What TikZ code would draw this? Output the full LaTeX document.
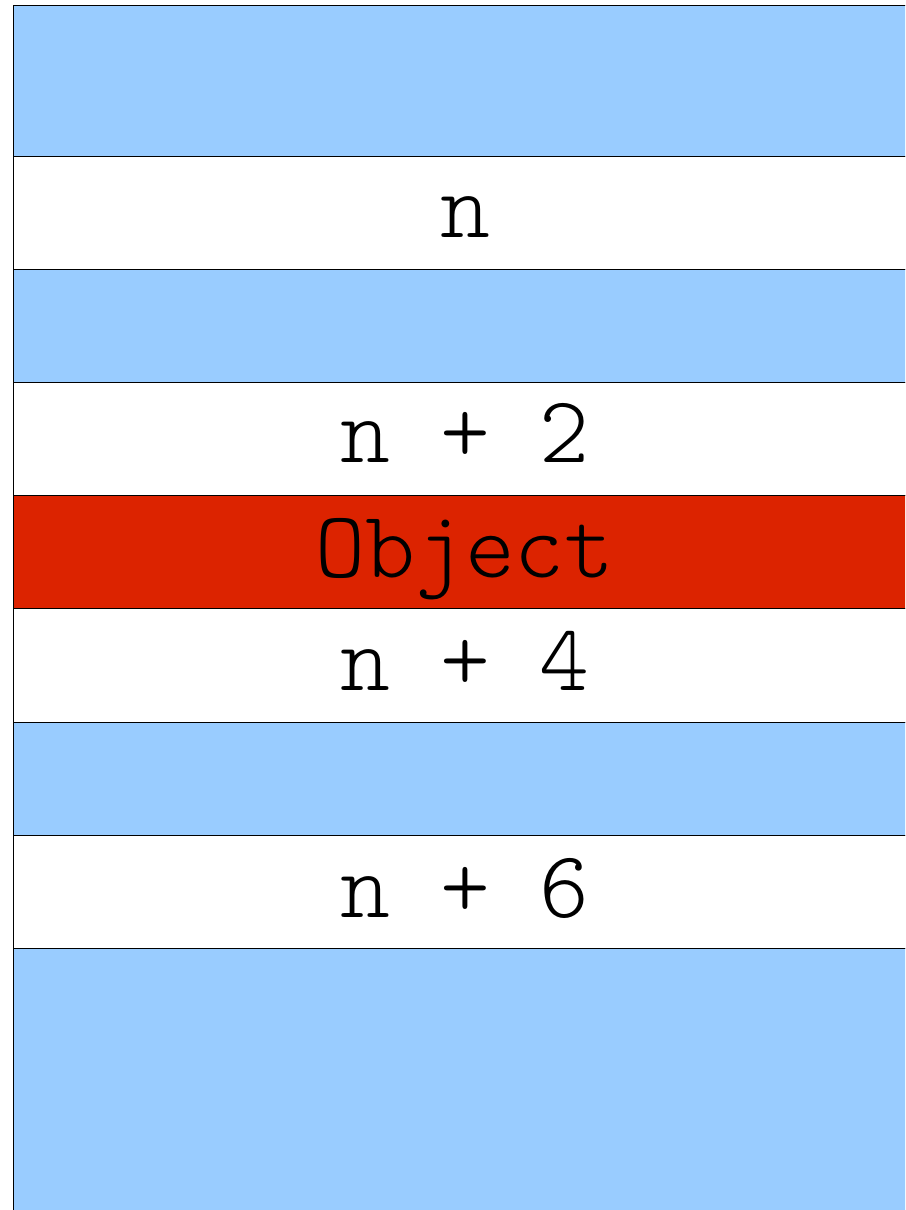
\documentclass[tikz,border=0pt]{standalone}
\usepackage{fontspec}
\newfontfamily\celltt{Latin Modern Mono Light}
\definecolor{rowblue}{HTML}{99CCFF}
\definecolor{rowred}{HTML}{DC2300}
\begin{document}
\begin{tikzpicture}[x=1pt,y=-1pt,
  rowbox/.style={draw=black, line width=0.9pt, rectangle, inner sep=0pt, anchor=north west,
    minimum width=910pt},
  celltext/.style={anchor=base, inner sep=0pt, font=\fontsize{95}{95}\selectfont\celltt}]
\useasboundingbox (0,0) rectangle (905,1210);
\clip (0,0) rectangle (905,1210);
\node[rowbox, fill=rowblue, minimum height=151pt] (r0) at (12.5,4.5) {};
\node[rowbox, fill=white, minimum height=113pt] (r1) at (12.5,155.5) {};
\node[rowbox, fill=rowblue, minimum height=113.5pt] (r2) at (12.5,268.5) {};
\node[rowbox, fill=white, minimum height=113pt] (r3) at (12.5,382) {};
\node[rowbox, fill=rowred, minimum height=113pt] (r4) at (12.5,495) {};
\node[rowbox, fill=white, minimum height=114pt] (r5) at (12.5,608) {};
\node[rowbox, fill=rowblue, minimum height=113pt] (r6) at (12.5,722) {};
\node[rowbox, fill=white, minimum height=113pt] (r7) at (12.5,835) {};
\node[rowbox, fill=rowblue, minimum height=280pt] (r8) at (12.5,948) {};
\node[celltext] (t1) at (465,237) {n};
\node[celltext] (t3) at (465,462) {n + 2};
\node[celltext] (t4) at (465,577) {Object};
\node[celltext] (t5) at (465,690) {n + 4};
\node[celltext] (t7) at (465,917) {n + 6};
\end{tikzpicture}
\end{document}
